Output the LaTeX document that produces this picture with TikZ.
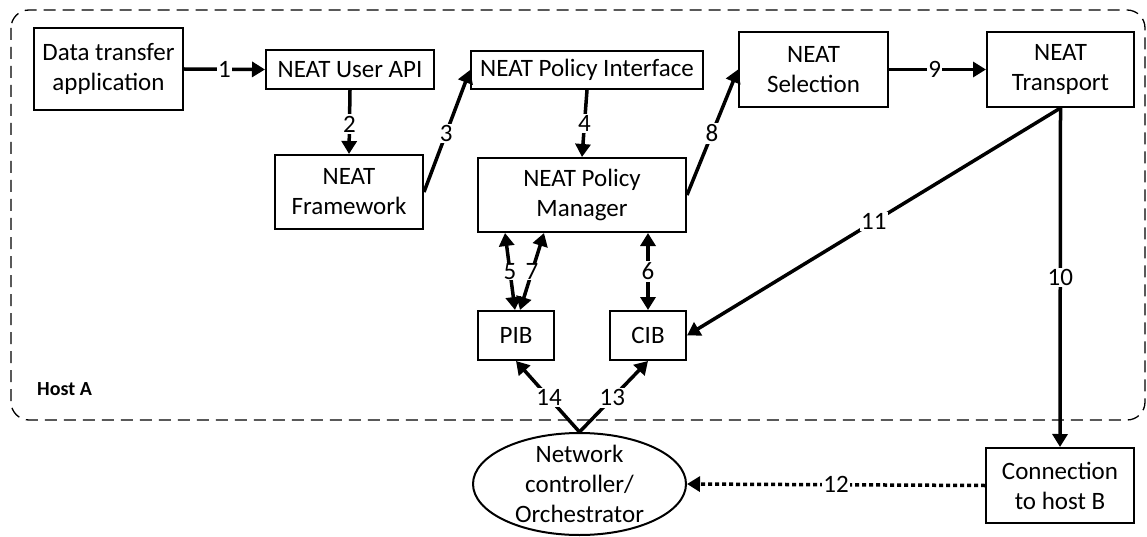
\documentclass[tikz,border=0pt]{standalone}
\usepackage{fontspec}
\setmainfont{Carlito}
\usetikzlibrary{arrows.meta,shapes.geometric}
\tikzset{
  box/.style={draw, line width=2pt, inner sep=0pt, align=center, font=\fontsize{25}{30}\selectfont},
  conn/.style={line width=3.5pt, -{Triangle[length=13pt,width=15pt]}},
  bconn/.style={line width=3.5pt, {Triangle[length=13pt,width=15pt]}-{Triangle[length=13pt,width=15pt]}},
  lbl/.style={fill=white, inner sep=1.5pt, font=\fontsize{25}{30}\selectfont},
}
\begin{document}
\begin{tikzpicture}[x=1pt,y=-1pt]
\useasboundingbox (0,0) rectangle (1147,537);
% host boundary
\draw[line width=1.3pt, dash pattern=on 12pt off 7pt, rounded corners=18pt] (11,10) rectangle (1145,420);
\node[font=\fontsize{20}{24}\selectfont\bfseries, anchor=west, inner sep=0pt] (host) at (37,389) {Host A};
% nodes
\node[box, minimum width=149pt, minimum height=82pt] (dta) at (108.5,69) {Data transfer\\application};
\node[box, minimum width=168pt, minimum height=39pt] (api) at (350,69.5) {NEAT User API};
\node[box, minimum width=148pt, minimum height=74pt] (fw) at (349,192) {NEAT\\Framework};
\node[box, minimum width=232pt, minimum height=38pt] (pi) at (587,70) {NEAT Policy Interface};
\node[box, minimum width=208pt, minimum height=74pt] (pm) at (582,195) {NEAT Policy\\Manager};
\node[box, minimum width=149pt, minimum height=75pt] (sel) at (813.5,69.5) {NEAT\\Selection};
\node[box, minimum width=147pt, minimum height=75pt] (tr) at (1060.5,69.5) {NEAT\\Transport};
\node[box, minimum width=76pt, minimum height=49pt] (pib) at (516,335.5) {PIB};
\node[box, minimum width=76pt, minimum height=49pt] (cib) at (648,335.5) {CIB};
\node[box, minimum width=148pt, minimum height=75pt] (cb) at (1060,485.5) {Connection\\to host B};
\node[draw, ellipse, line width=2pt, minimum width=213pt, minimum height=102pt, inner sep=0pt] (nc) at (579.5,484) {};
\node[align=center, font=\fontsize{25}{30}\selectfont] (nct) at (nc.center) {Network\\controller/\\Orchestrator};
% connectors
\draw[conn] (dta.east) -- node[lbl, pos=0.5] {1} (api.west);
\draw[conn] (api.south) -- node[lbl, pos=0.53] {2} (fw.north);
\draw[conn] (fw.east) -- node[lbl, pos=0.48] {3} (pi.west);
\draw[conn] (pi.south) -- node[lbl, pos=0.5] {4} (pm.north);
\draw[bconn] ([xshift=28pt]pm.south west) -- node[lbl, pos=0.5, inner sep=0.5pt] {5} ([xshift=-1pt]pib.north);
\draw[bconn] ([xshift=67pt]pm.south west) -- node[lbl, pos=0.5, inner sep=0.5pt] {7} ([xshift=4pt]pib.north);
\draw[bconn] (pm.south -| cib.north) -- node[lbl, pos=0.5] {6} (cib.north);
\draw[conn] (pm.east) -- node[lbl, pos=0.49] {8} (sel.west);
\draw[conn] (sel.east) -- node[lbl, pos=0.47] {9} (tr.west);
\draw[conn] (tr.south) -- node[lbl, pos=0.5] {10} (cb.north);
\draw[conn] (tr.south) -- node[lbl, pos=0.5] {11} (cib.east);
\draw[conn, dash pattern=on 4pt off 3pt] (cb.west) -- node[lbl, pos=0.5] {12} (nc.east);
\draw[conn] (nc.north) -- node[lbl, pos=0.48] {13} (cib.south);
\draw[conn] (nc.north) -- node[lbl, pos=0.48] {14} (pib.south);
\end{tikzpicture}
\end{document}
